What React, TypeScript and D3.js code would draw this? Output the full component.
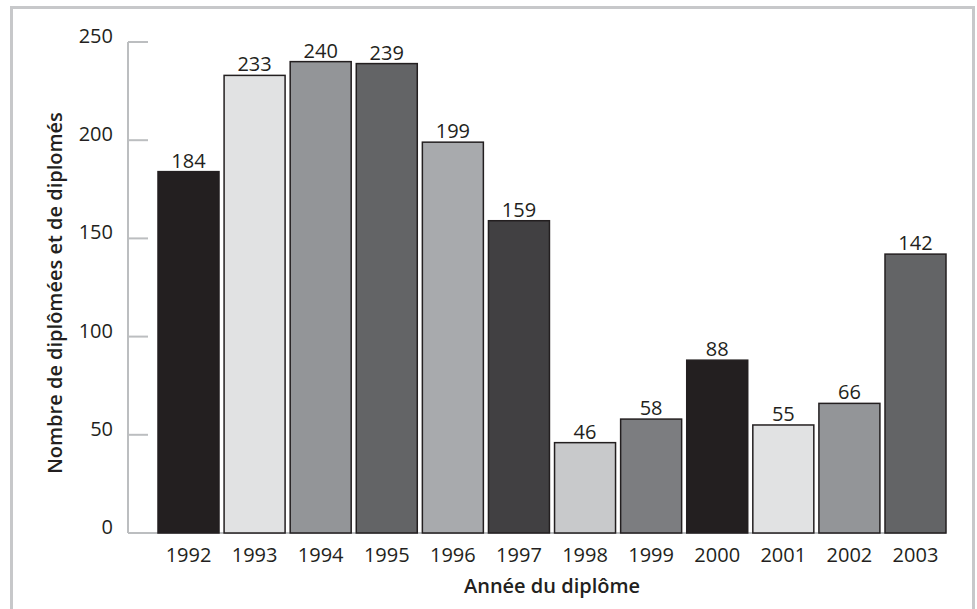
import { useEffect, useRef } from "react";
import * as d3 from "d3";

// data
const years = ["1992", "1993", "1994", "1995", "1996", "1997", "1998", "1999", "2000", "2001", "2002", "2003"];
const counts = [184, 233, 240, 239, 199, 159, 46, 58, 88, 55, 66, 142];
const barColors = ["#231f20", "#e1e2e3", "#939598", "#636466", "#a8aaad", "#414042", "#c8c9cb", "#7c7d80", "#231f20", "#e1e2e3", "#939598", "#636466"];
const yTicks = [0, 50, 100, 150, 200, 250];

const App = () => {
  const svgRef = useRef<SVGSVGElement>(null);

  useEffect(() => {
    document.body.style.margin = "0";
    const svg = d3.select(svgRef.current);
    svg.selectAll("*").remove();

    const width = 977;
    const height = 609;
    const font = "'Open Sans', 'Noto Sans', sans-serif";
    const ink = "#231f20";

    svg.attr("width", width).attr("height", height);

    // light grey frame round the whole figure
    svg
      .append("rect")
      .attr("x", 11.5)
      .attr("y", 7.5)
      .attr("width", 962)
      .attr("height", 620)
      .attr("fill", "none")
      .attr("stroke", "#c7c8ca")
      .attr("stroke-width", 3);

    const x = d3.scaleBand().domain(years).range([158, 946]).paddingInner(0.077).paddingOuter(0);
    const y = d3.scaleLinear().domain([0, 250]).range([533, 42]);

    const axisColor = "#bcbec0";

    // y axis line + ticks
    svg
      .append("line")
      .attr("x1", 128)
      .attr("x2", 128)
      .attr("y1", y(250))
      .attr("y2", y(0))
      .attr("stroke", axisColor)
      .attr("stroke-width", 2);

    svg
      .selectAll("line.tick")
      .data(yTicks)
      .enter()
      .append("line")
      .attr("class", "tick")
      .attr("x1", 128)
      .attr("x2", 148)
      .attr("y1", (d) => y(d))
      .attr("y2", (d) => y(d))
      .attr("stroke", axisColor)
      .attr("stroke-width", 2);

    svg
      .selectAll("text.ytick")
      .data(yTicks)
      .enter()
      .append("text")
      .attr("class", "ytick")
      .attr("x", 113)
      .attr("y", (d) => y(d) + 1)
      .attr("text-anchor", "end")
      .attr("font-family", font)
      .attr("font-size", 20)
      .attr("fill", ink)
      .text((d) => d);

    // baseline
    svg
      .append("line")
      .attr("x1", 128)
      .attr("x2", 946)
      .attr("y1", y(0))
      .attr("y2", y(0))
      .attr("stroke", axisColor)
      .attr("stroke-width", 2);

    // bars
    svg
      .selectAll("rect.bar")
      .data(counts)
      .enter()
      .append("rect")
      .attr("class", "bar")
      .attr("x", (_, i) => x(years[i])!)
      .attr("y", (d) => y(d))
      .attr("width", x.bandwidth())
      .attr("height", (d) => y(0) - y(d))
      .attr("fill", (_, i) => barColors[i])
      .attr("stroke", ink)
      .attr("stroke-width", 1.5);

    // value labels
    svg
      .selectAll("text.value")
      .data(counts)
      .enter()
      .append("text")
      .attr("class", "value")
      .attr("x", (_, i) => x(years[i])! + x.bandwidth() / 2)
      .attr("y", (d) => y(d) - 4)
      .attr("text-anchor", "middle")
      .attr("font-family", font)
      .attr("font-size", 20)
      .attr("fill", ink)
      .text((d) => d);

    // year labels
    svg
      .selectAll("text.year")
      .data(years)
      .enter()
      .append("text")
      .attr("class", "year")
      .attr("x", (d) => x(d)! + x.bandwidth() / 2)
      .attr("y", 562)
      .attr("text-anchor", "middle")
      .attr("font-family", font)
      .attr("font-size", 20)
      .attr("fill", ink)
      .text((d) => d);

    // axis titles
    svg
      .append("text")
      .attr("x", 552)
      .attr("y", 593)
      .attr("text-anchor", "middle")
      .attr("font-family", font)
      .attr("font-size", 20)
      .attr("font-weight", 600)
      .attr("fill", ink)
      .text("Année du diplôme");

    svg
      .append("text")
      .attr("transform", "translate(62, 293) rotate(-90)")
      .attr("text-anchor", "middle")
      .attr("font-family", font)
      .attr("font-size", 20)
      .attr("font-weight", 600)
      .attr("fill", ink)
      .text("Nombre de diplômées et de diplomés");
  }, []);

  return <svg ref={svgRef} style={{ display: "block" }}></svg>;
};

export default App;
